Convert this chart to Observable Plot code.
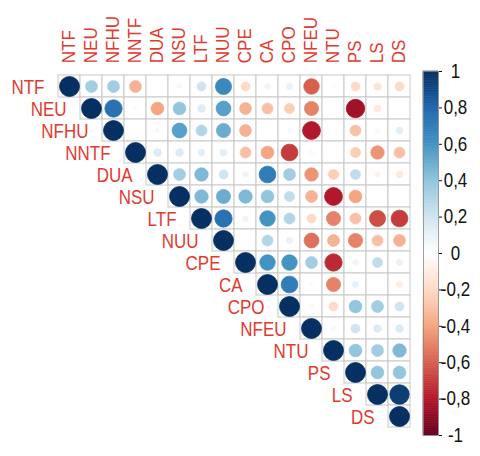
<!DOCTYPE html>
<html><head><meta charset="utf-8">
<script src="https://cdn.jsdelivr.net/npm/d3@7"></script>
<script src="https://cdn.jsdelivr.net/npm/@observablehq/plot@0.6"></script>
<style>
body{margin:0;background:#fff;font-family:"Liberation Sans",Arial,sans-serif}
#wrap{position:relative;width:480px;height:456px}
#wrap svg{position:absolute;top:0}
</style></head><body><div id="wrap"></div>
<script>
const vars = ["NTF","NEU","NFHU","NNTF","DUA","NSU","LTF","NUU","CPE","CA","CPO","NFEU","NTU","PS","LS","DS"];
// upper-triangle rows, starting at the diagonal
const rNTF  = [1, .35, .35, -.35, 0, -.05, .2, .65, -.2, .08, .1, -.6, -.03, -.2, -.15, -.2];
const rNEU  = [1, .75, .03, -.4, .4, .15, .55, -.35, -.3, -.25, -.5, -.02, -.85, -.12, 0];
const rNFHU = [1, 0, .05, .55, .3, .5, -.35, 0, .05, -.8, 0, -.3, -.05, .12];
const rNNTF = [1, .15, .15, .12, .12, -.3, -.4, -.7, -.04, .02, -.25, -.45, -.3];
const rDUA  = [1, .35, .45, .2, .08, .7, .35, -.45, -.25, .25, -.08, -.12];
const rNSU  = [1, .45, .5, .45, .4, .25, -.35, -.8, -.4, 0, 0];
const rLTF  = [1, .75, .08, .6, .3, -.2, -.5, -.3, -.65, -.7];
const rNUU  = [1, 0, .3, .1, -.55, -.35, -.5, -.3, -.35];
const rCPE  = [1, .6, .6, .35, -.75, .08, .25, .1];
const rCA   = [1, .7, .03, -.5, .1, .02, -.1];
const rCPO  = [1, .05, -.2, .4, .35, .2];
const rNFEU = [1, .05, .2, .15, .15];
const rNTU  = [1, .4, .35, .45];
const rPS   = [1, .4, .4];
const rLS   = [1, .95];
const rDS   = [1];
const legendTicks = [-1, -0.8, -0.6, -0.4, -0.2, 0, 0.2, 0.4, 0.6, 0.8, 1];
const palette = ["#67001F","#B2182B","#D6604D","#F4A582","#FDDBC7","#FFFFFF","#D1E5F0","#92C5DE","#4393C3","#2166AC","#053061"];

const rows = [rNTF,rNEU,rNFHU,rNNTF,rDUA,rNSU,rLTF,rNUU,rCPE,rCA,rCPO,rNFEU,rNTU,rPS,rLS,rDS];
const cells = [];
rows.forEach((row, i) => row.forEach((v, k) => cells.push({x: vars[i + k], y: vars[i], v})));
const diag = cells.filter(d => d.x === d.y);

const red = "#e23a30";
const colorScale = {type: "linear", domain: legendTicks, range: palette, clamp: true};

const main = Plot.plot({
  width: 480, height: 456,
  marginLeft: 52.7, marginRight: 64.9, marginTop: 69.7, marginBottom: 23.9,
  style: {fontFamily: "'Liberation Sans', Arial, sans-serif", background: "transparent"},
  x: {domain: vars, padding: 0, axis: null},
  y: {domain: vars, padding: 0, axis: null},
  color: colorScale,
  r: {domain: [0, 1], range: [0, 10]},
  marks: [
    Plot.cell(cells, {x: "x", y: "y", fill: "white", stroke: "#c8c8c8", strokeWidth: 1}),
    Plot.dot(cells, {x: "x", y: "y", r: d => Math.abs(d.v), fill: "v", stroke: "v", strokeWidth: 0.8}),
    Plot.text(diag, {x: "x", y: "y", text: "x", textAnchor: "end", dx: -25, dy: 1, fill: red, fontSize: 17}),
    Plot.axisX({anchor: "top", tickRotate: -90, tickSize: 0, tickPadding: 7, color: red, fill: red, fontSize: 17, label: null})
  ]
});
main.style.left = "0px";

const stripes = d3.range(200).map(i => ({y1: -1 + i * 0.01, y2: -1 + (i + 1) * 0.01, v: -1 + (i + 0.5) * 0.01}));
const bar = Plot.plot({
  width: 65, height: 456,
  marginLeft: 8, marginRight: 42, marginTop: 71, marginBottom: 21,
  style: {fontFamily: "'Liberation Sans', Arial, sans-serif", background: "transparent", overflow: "visible"},
  x: {domain: [0, 1], axis: null},
  y: {domain: [-1, 1], axis: null},
  color: colorScale,
  marks: [
    Plot.rect(stripes, {x1: 0, x2: 1, y1: "y1", y2: "y2", fill: "v", stroke: "v", strokeWidth: 0.6}),
    Plot.frame({stroke: "#888", strokeWidth: 0.8}),
    Plot.axisY({anchor: "right", ticks: legendTicks, tickSize: 3, tickPadding: 14, textAnchor: "middle",
      tickFormat: d => String(d).replace(".", ","), fontSize: 17, color: "#111", label: null})
  ]
});
bar.style.left = "415px";

// the reference text is drawn slightly tall: stretch glyphs a little
function stretch(svg, selector, sy) {
  d3.select(svg).selectAll(selector).each(function() {
    let t = this.getAttribute("transform") || "";
    for (const a of ["x", "y"]) {
      const v = this.getAttribute(a);
      if (v != null && /^-?[\d.]+$/.test(v.trim())) {
        this.removeAttribute(a);
        t += a === "x" ? ` translate(${v},0)` : ` translate(0,${v})`;
      }
    }
    this.setAttribute("transform", `${t} scale(1,${sy})`);
  });
}
stretch(main, 'g[aria-label="text"] text', 1.15);
stretch(main, 'g[aria-label="x-axis tick label"] text', 1.06);
stretch(bar, 'g[aria-label="y-axis tick label"] text', 1.15);

const wrap = document.getElementById("wrap");
wrap.appendChild(main);
wrap.appendChild(bar);
</script></body></html>
